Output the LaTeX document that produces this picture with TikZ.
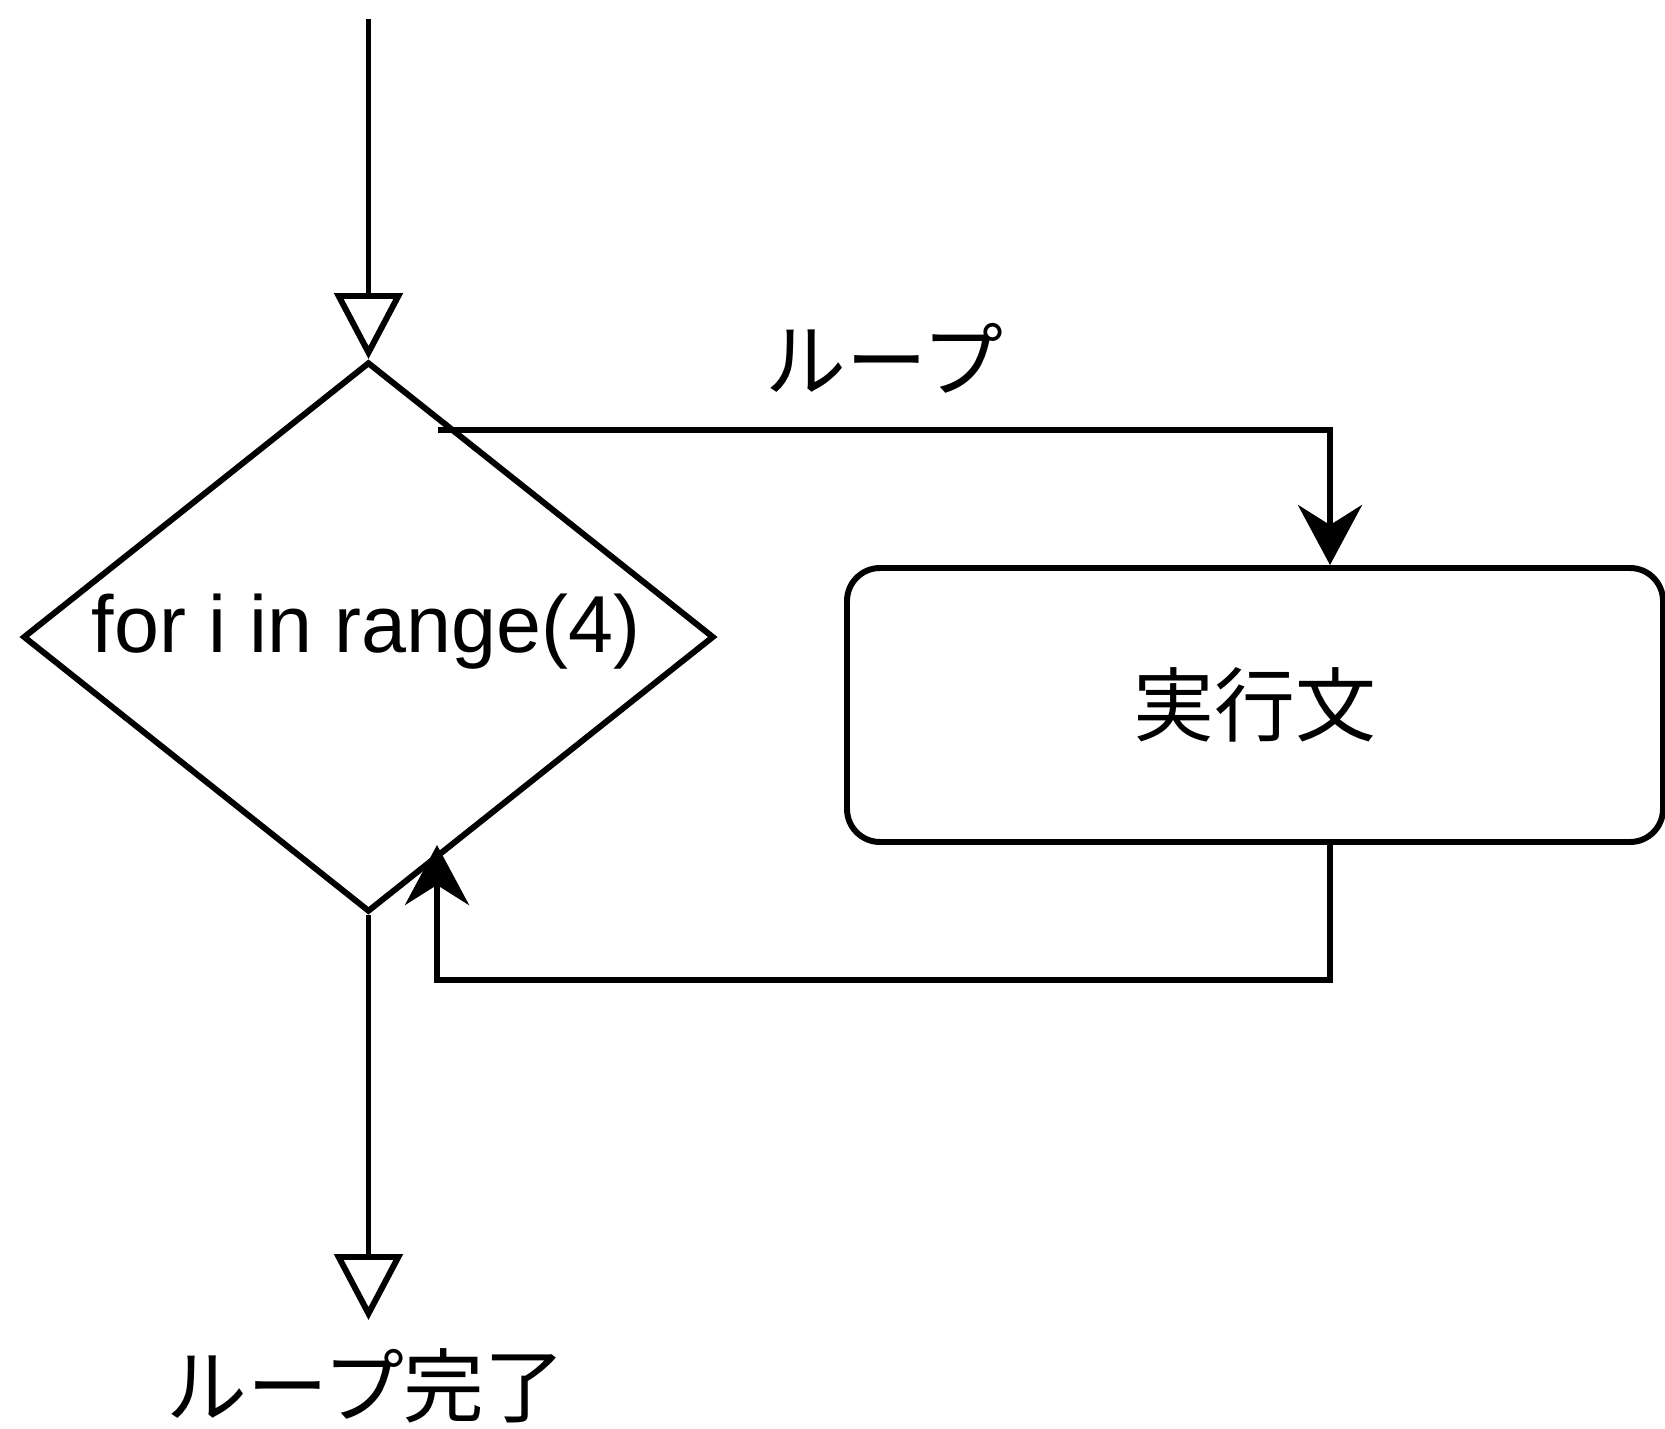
\documentclass[tikz,border=0pt]{standalone}
\usepackage{fontspec}
\setmainfont{Liberation Sans}
\newfontfamily\jpfont{Noto Sans CJK JP}
\usetikzlibrary{shapes.geometric,arrows.meta,positioning,calc}
\begin{document}
\begin{tikzpicture}[x=1cm,y=1cm,
  every node/.style={font=\fontsize{23}{27}\selectfont},
  line/.style={line width=1.7pt, line join=miter},
  opentip/.style={-{Triangle[open,length=0.66cm,width=0.68cm,line width=1.7pt]}},
  filledtip/.style={-{Stealth[length=0.6cm,width=0.64cm,inset=0.2cm]}},
  decision/.style={draw, line width=1.7pt, shape=diamond, inner sep=0pt, minimum width=6.91cm, minimum height=5.50cm},
  process/.style={draw, line width=1.7pt, rounded corners=0.33cm, minimum width=8.16cm, minimum height=2.74cm, inner sep=0pt},
  jp/.style={font=\jpfont\fontsize{23}{27}\selectfont}
]
\useasboundingbox (0,0) rectangle (16.65,-14.29);

% decision
\node[decision] (dia) at (3.685,-6.37) {};
\node (diatext) at (3.66,-6.32) {for i in range(4)};

% process
\node[process, jp] (proc) at (12.55,-7.05) {実行文};

% start of flow
\coordinate (start) at (3.685,-0.19);
\draw[line, opentip] (start) -- (dia.north);

% loop branch
\coordinate (loopstart) at (4.38,-4.30);
\coordinate (xr) at (13.30,0);
\draw[line, filledtip] (loopstart) -| (xr |- proc.north);
\node[jp] (looplabel) at (8.84,-3.58) {ループ};

% return from process
\coordinate (retdown) at (13.30,-9.80);
\coordinate (retleft) at (4.37,-9.80);
\coordinate (rettip) at (4.37,-8.45);
\draw[line, filledtip] (xr |- proc.south) -- (retdown) -- (retleft) -- (rettip);

% exit
\coordinate (exitend) at (3.685,-13.20);
\draw[line, opentip] (dia.south) -- (exitend);
\node[jp] (donelabel) at (3.66,-13.86) {ループ完了};
\end{tikzpicture}
\end{document}
